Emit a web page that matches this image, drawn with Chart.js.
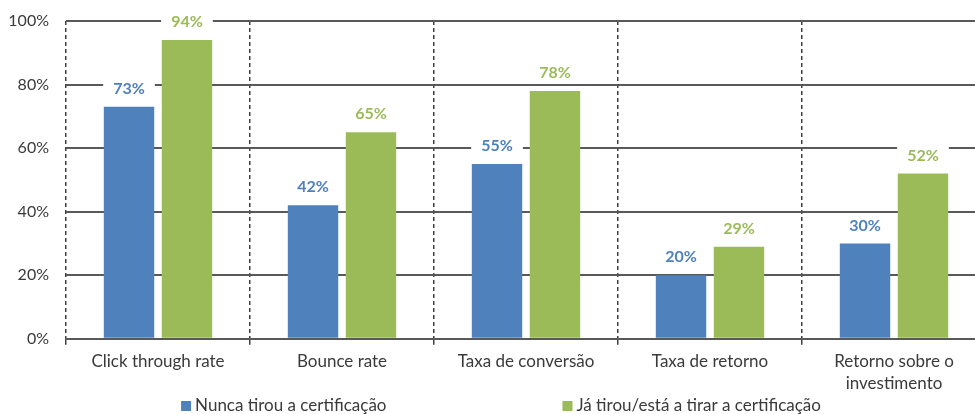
<!DOCTYPE html>
<html>
<head>
<meta charset="utf-8">
<script src="https://cdn.jsdelivr.net/npm/chart.js@4.4.1/dist/chart.umd.min.js"></script>
<style>
body{margin:0;background:#fff;overflow:hidden;}
#wrap{width:990px;height:414px;}
</style>
</head>
<body>
<div id="wrap"><canvas id="grafico" width="990" height="414"></canvas></div>
<script>
// categorias e valores (%)
const categorias = ["Click through rate", "Bounce rate", "Taxa de conversão", "Taxa de retorno", ["Retorno sobre o", "investimento"]];
const nuncaTirou = [73, 42, 55, 20, 30];
const jaTirou = [94, 65, 78, 29, 52];
const ticksY = [0, 20, 40, 60, 80, 100];

const azul = "#4F81BD";
const verde = "#9BBB59";
const cinza = "#3a3a3a";
const fonte = "Lato, 'Liberation Sans', sans-serif";

// rótulos de valor com fundo branco por cima das barras
const rotulos = {
  id: "rotulos",
  afterDatasetsDraw(chart){
    const ctx = chart.ctx;
    ctx.save();
    ctx.font = "bold 16px " + fonte;
    ctx.textAlign = "center";
    ctx.textBaseline = "middle";
    chart.data.datasets.forEach((ds, i) => {
      chart.getDatasetMeta(i).data.forEach((bar, j) => {
        const txt = ds.data[j] + "%";
        const y = bar.y - 19;
        const w = ctx.measureText(txt).width + 20;
        ctx.fillStyle = "#fff";
        ctx.fillRect(bar.x - w/2, y - 11, w, 22);
        ctx.fillStyle = ds.backgroundColor;
        ctx.fillText(txt, bar.x, y + 1);
      });
    });
    ctx.restore();
  }
};

// legenda em baixo, itens bem afastados
const legenda = {
  id: "legenda",
  afterDraw(chart){
    const ctx = chart.ctx;
    ctx.save();
    ctx.font = "17px " + fonte;
    ctx.textBaseline = "middle";
    const gap = 176;
    const itens = chart.data.datasets.map(ds => ({txt: ds.label, cor: ds.backgroundColor, w: 14 + ctx.measureText(ds.label).width}));
    let total = itens.reduce((s, it) => s + it.w, 0) + gap * (itens.length - 1);
    let x = 501 - total / 2;
    const y = 406;
    itens.forEach(it => {
      ctx.fillStyle = it.cor;
      ctx.fillRect(x, y - 5, 10, 10);
      ctx.fillStyle = cinza;
      ctx.fillText(it.txt, x + 14, y);
      x += it.w + gap;
    });
    ctx.restore();
  }
};

new Chart(document.getElementById("grafico"), {
  type: "bar",
  data: {
    labels: categorias,
    datasets: [
      {label: "Nunca tirou a certificação", data: nuncaTirou, backgroundColor: azul},
      {label: "Já tirou/está a tirar a certificação", data: jaTirou, backgroundColor: verde}
    ]
  },
  options: {
    responsive: false,
    animation: false,
    categoryPercentage: 0.63,
    barPercentage: 0.87,
    layout: {padding: {top: 0, left: 8, right: 4, bottom: 13}},
    plugins: {legend: {display: false}, tooltip: {enabled: false}},
    scales: {
      x: {
        grid: {color: "#404040", lineWidth: 1.5, tickLength: 6, offset: true},
        border: {display: true, color: "#595959", width: 2, dash: [4, 3]},
        ticks: {color: cinza, font: {family: fonte, size: 17, lineHeight: 1.3}, padding: 6, maxRotation: 0, autoSkip: false}
      },
      y: {
        min: 0, max: 100,
        afterBuildTicks(axis){ axis.ticks = ticksY.map(v => ({value: v})); },
        afterFit(axis){ axis.width = 58; },
        grid: {color: "#595959", lineWidth: 2, drawTicks: false},
        border: {display: false},
        ticks: {color: cinza, font: {family: fonte, size: 16, lineHeight: 0.5}, padding: 17, callback: v => v + "%"}
      }
    }
  },
  plugins: [rotulos, legenda]
});
</script>
</body>
</html>
